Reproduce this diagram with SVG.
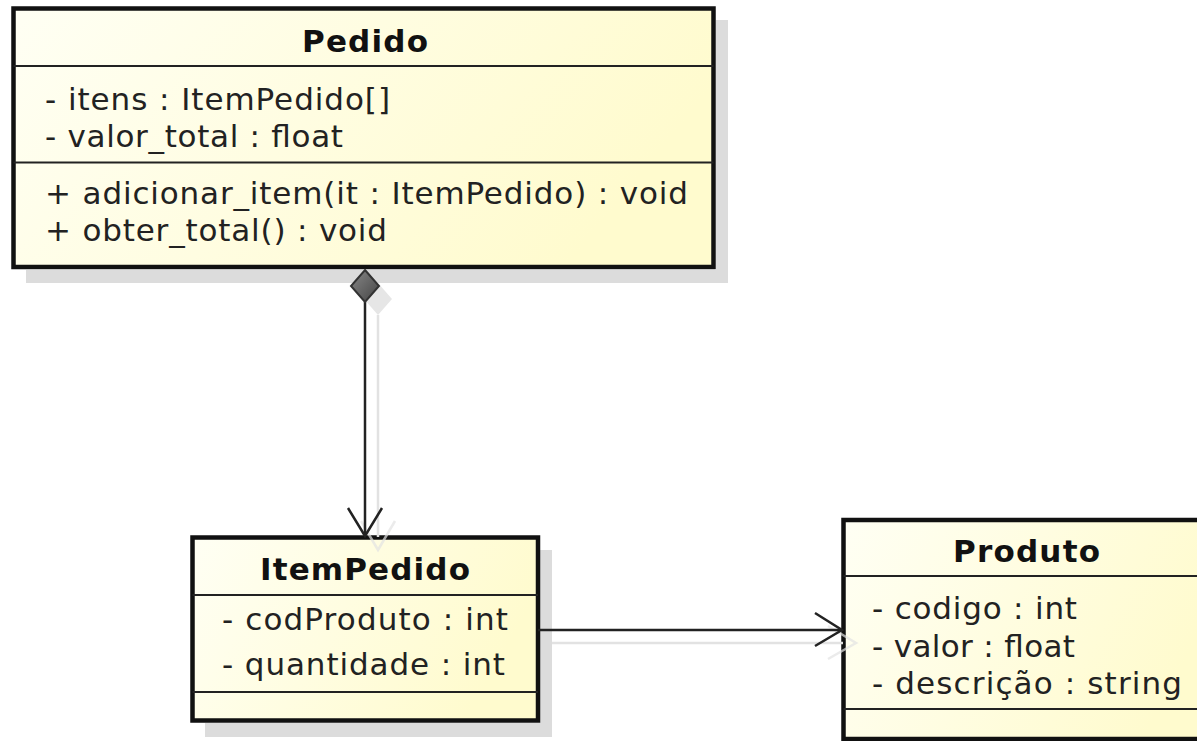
<svg xmlns="http://www.w3.org/2000/svg" width="1197" height="741" viewBox="0 0 1197 741">
  <defs>
    <linearGradient id="fill" x1="0" y1="0" x2="1" y2="0.3">
      <stop offset="0" stop-color="#FFFFF4"/>
      <stop offset="1" stop-color="#FFFBCE"/>
    </linearGradient>
    <linearGradient id="dia" x1="0" y1="0" x2="1" y2="1">
      <stop offset="0" stop-color="#888888"/>
      <stop offset="1" stop-color="#444444"/>
    </linearGradient>
    <style>
      .box { fill: url(#fill); stroke: #111; stroke-width: 4.5; }
      .sep { stroke: #222; stroke-width: 2; }
      .shadow { fill: #DCDCDC; }
      .title { font-family: "DejaVu Sans", "Liberation Sans", sans-serif; font-weight: bold; font-size: 31px; fill: #111; }
      .txt { font-family: "DejaVu Sans", "Liberation Sans", sans-serif; font-size: 31px; fill: #222; }
      .line { stroke: #222; stroke-width: 2.5; fill: none; }
      .sline { stroke: #E2E2E2; stroke-width: 2.5; fill: none; }
    </style>
  </defs>
  <rect width="1197" height="741" fill="#FFFFFF"/>

  <g id="Pedido">
    <path class="shadow" d="M716,20 H728 V283 H26 V270 H716 Z"/>
    <rect class="box" x="13.5" y="8.5" width="700" height="258.5"/>
    <line class="sep" x1="13.5" y1="66" x2="713.5" y2="66"/>
    <line class="sep" x1="13.5" y1="162.5" x2="713.5" y2="162.5"/>
    <text class="title" x="302" y="52" textLength="126" lengthAdjust="spacing">Pedido</text>
    <text class="txt" x="45" y="110" textLength="345" lengthAdjust="spacing">- itens : ItemPedido[]</text>
    <text class="txt" x="45" y="147" textLength="298" lengthAdjust="spacing">- valor_total : float</text>
    <text class="txt" x="45" y="204" textLength="643" lengthAdjust="spacing">+ adicionar_item(it : ItemPedido) : void</text>
    <text class="txt" x="45" y="241" textLength="342" lengthAdjust="spacing">+ obter_total() : void</text>
  </g>

  <g id="ItemPedido">
    <path class="shadow" d="M540,550 H552 V737 H205 V723 H540 Z"/>
    <rect class="box" x="192.5" y="537.5" width="345.5" height="183"/>
    <line class="sep" x1="192.5" y1="595" x2="538" y2="595"/>
    <line class="sep" x1="192.5" y1="692" x2="538" y2="692"/>
    <text class="title" x="260" y="580" textLength="210" lengthAdjust="spacing">ItemPedido</text>
    <text class="txt" x="222" y="630" textLength="286" lengthAdjust="spacing">- codProduto : int</text>
    <text class="txt" x="222" y="675" textLength="283" lengthAdjust="spacing">- quantidade : int</text>
  </g>

  <g id="Produto">
    <rect class="box" x="843.5" y="520" width="380" height="219"/>
    <line class="sep" x1="843.5" y1="576" x2="1223" y2="576"/>
    <line class="sep" x1="843.5" y1="709" x2="1223" y2="709"/>
    <text class="title" x="953" y="562" textLength="147" lengthAdjust="spacing">Produto</text>
    <text class="txt" x="872" y="619" textLength="205" lengthAdjust="spacing">- codigo : int</text>
    <text class="txt" x="872" y="657" textLength="203" lengthAdjust="spacing">- valor : float</text>
    <text class="txt" x="872" y="694" textLength="310" lengthAdjust="spacing">- descrição : string</text>
  </g>

  <g id="connectors">
    <!-- shadows -->
    <polygon points="378,283 392,299 378,315 364,299" fill="#E6E6E6"/>
    <line class="sline" x1="378" y1="315" x2="378" y2="537"/>
    <polyline class="sline" points="361,521 378,550 395,521" stroke-opacity="0.7"/>
    <line class="sline" x1="552" y1="643" x2="843" y2="643"/>
    <polyline class="sline" points="828,626 856,643 828,659" stroke-opacity="0.7"/>
    <!-- composition -->
    <line class="line" x1="365" y1="302" x2="365" y2="536"/>
    <polyline class="line" points="348,508 365,536 382,508"/>
    <polygon points="365,270 379,286 365,302 351,286" fill="url(#dia)" stroke="#333" stroke-width="2"/>
    <!-- association -->
    <line class="line" x1="538" y1="630" x2="842" y2="630"/>
    <polyline class="line" points="815,613 842,630 815,646"/>
  </g>
</svg>
